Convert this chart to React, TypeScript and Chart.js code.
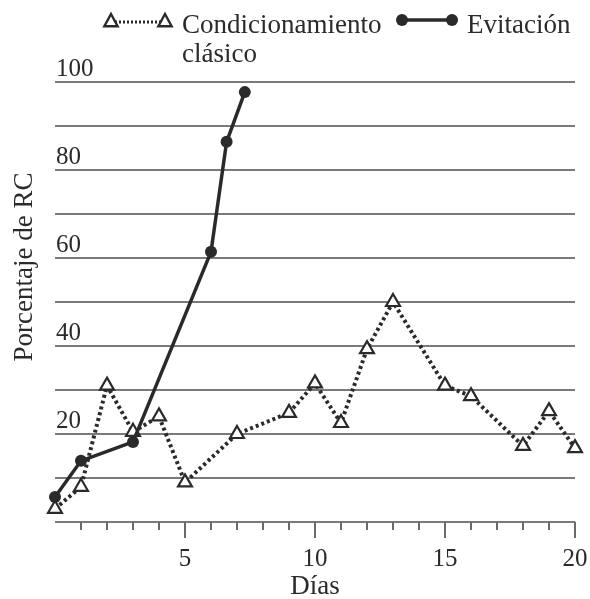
import React, { useEffect, useRef } from "react";
import { Chart, registerables } from "chart.js";

Chart.register(...registerables);

const clasicoDays = [0, 1, 2, 3, 4, 5, 7, 9, 10, 11, 12, 13, 15, 16, 18, 19, 20];
const clasicoValues = [3, 8, 31, 20.5, 24, 9, 20, 24.8, 31.5, 22.5, 39.3, 50, 31, 28.6, 17.3, 25.2, 16.8];
const evitacionDays = [0, 1, 3, 6, 6.6, 7.3];
const evitacionValues = [5.7, 13.9, 18.2, 61.4, 86.4, 97.7];
const yTickLabels = [20, 40, 60, 80, 100];
const xTickLabels = [5, 10, 15, 20];
const legendClasico = ["Condicionamiento", "clásico"];
const legendEvitacion = "Evitación";
const xTitle = "Días";
const yTitle = "Porcentaje de RC";

const FONT = '"Liberation Serif", "Times New Roman", serif';
const INK = "#2a2a2a";

const decorPlugin = {
  id: "decor",
  afterDraw(chart: any) {
    const ctx = chart.ctx;
    const xs = chart.scales.x;
    const area = chart.chartArea;
    ctx.save();
    // x tick marks
    ctx.strokeStyle = "#6a6a6a";
    ctx.lineWidth = 2;
    for (let i = 1; i <= 20; i++) {
      const px = Math.round(xs.getPixelForValue(i));
      const len = i % 5 === 0 ? 16 : 8;
      ctx.beginPath();
      ctx.moveTo(px, area.bottom);
      ctx.lineTo(px, area.bottom + len);
      ctx.stroke();
    }
    // axis titles
    ctx.fillStyle = INK;
    ctx.font = `27px ${FONT}`;
    ctx.textAlign = "center";
    ctx.textBaseline = "alphabetic";
    ctx.fillText(xTitle, (area.left + area.right) / 2, 594);
    ctx.save();
    ctx.translate(32, 267);
    ctx.rotate(-Math.PI / 2);
    ctx.fillText(yTitle, 0, 0);
    ctx.restore();

    // legend
    const ly = 21;
    ctx.strokeStyle = INK;
    ctx.lineWidth = 3;
    ctx.setLineDash([2, 2]);
    ctx.beginPath();
    ctx.moveTo(111, ly + 1);
    ctx.lineTo(165, ly + 1);
    ctx.stroke();
    ctx.setLineDash([]);
    const tri = (cx: number, cy: number) => {
      const r = 7;
      ctx.beginPath();
      ctx.moveTo(cx, cy - r);
      ctx.lineTo(cx + r * 0.95, cy + r * 0.75);
      ctx.lineTo(cx - r * 0.95, cy + r * 0.75);
      ctx.closePath();
      ctx.fillStyle = "#fff";
      ctx.fill();
      ctx.lineWidth = 2.4;
      ctx.stroke();
    };
    tri(111, ly);
    tri(165, ly);
    ctx.lineWidth = 3.5;
    ctx.beginPath();
    ctx.moveTo(402, ly - 1);
    ctx.lineTo(452, ly - 1);
    ctx.stroke();
    ctx.fillStyle = INK;
    for (const cx of [402, 452]) {
      ctx.beginPath();
      ctx.arc(cx, ly - 1, 6, 0, Math.PI * 2);
      ctx.fill();
    }
    ctx.font = `27px ${FONT}`;
    ctx.textAlign = "left";
    ctx.fillText(legendClasico[0], 182, 33);
    ctx.fillText(legendClasico[1], 182, 62);
    ctx.fillText(legendEvitacion, 467, 33);
    ctx.restore();
  },
};

export default function App() {
  const ref = useRef<HTMLCanvasElement>(null);
  useEffect(() => {
    if (!ref.current) return;
    const chart = new Chart(ref.current, {
      type: "line",
      data: {
        datasets: [
          {
            label: legendEvitacion,
            data: evitacionDays.map((d, i) => ({ x: d, y: evitacionValues[i] })),
            borderColor: INK,
            backgroundColor: INK,
            borderWidth: 3.5,
            pointStyle: "circle",
            pointRadius: 6,
            pointBackgroundColor: INK,
            pointBorderColor: INK,
            pointBorderWidth: 0,
            tension: 0,
            clip: false,
          },
          {
            label: legendClasico.join(" "),
            data: clasicoDays.map((d, i) => ({ x: d, y: clasicoValues[i] })),
            borderColor: INK,
            backgroundColor: "#fff",
            borderWidth: 4,
            borderDash: [3, 3],
            borderCapStyle: "butt",
            pointStyle: "triangle",
            pointRadius: 8,
            pointBackgroundColor: "#fff",
            pointBorderColor: INK,
            pointBorderWidth: 2.2,
            tension: 0,
            clip: false,
          },
        ],
      } as any,
      options: {
        animation: false,
        responsive: false,
        devicePixelRatio: 1,
        layout: { padding: { left: 55, right: 15, top: 82, bottom: 0 } },
        plugins: { legend: { display: false }, tooltip: { enabled: false } },
        scales: {
          x: {
            type: "linear",
            min: 0,
            max: 20,
            grid: { display: false },
            border: { display: false },
            ticks: {
              stepSize: 1,
              autoSkip: false,
              maxRotation: 0,
              padding: 14,
              color: INK,
              font: { family: FONT, size: 25 },
              callback: (v: any) => (xTickLabels.includes(v) ? String(v) : ""),
            },
            afterFit: (s: any) => {
              s.height = 77;
              s.paddingLeft = 0;
              s.paddingRight = 0;
            },
          },
          y: {
            type: "linear",
            min: 0,
            max: 100,
            grid: { color: "#7a7a7a", lineWidth: 2, drawTicks: false },
            border: { display: false },
            ticks: {
              stepSize: 10,
              mirror: true,
              padding: 1,
              labelOffset: -13,
              color: INK,
              font: { family: FONT, size: 25 },
              callback: (v: any) => (yTickLabels.includes(v) ? String(v) : ""),
            },
            afterFit: (s: any) => {
              s.width = 0;
              s.paddingTop = 0;
              s.paddingBottom = 0;
            },
          },
        },
      } as any,
      plugins: [decorPlugin],
    });
    return () => chart.destroy();
  }, []);
  return (
    <div style={{ position: "absolute", left: 0, top: 0, width: 590, height: 599, background: "#fff" }}>
      <canvas ref={ref} width={590} height={599} />
    </div>
  );
}
